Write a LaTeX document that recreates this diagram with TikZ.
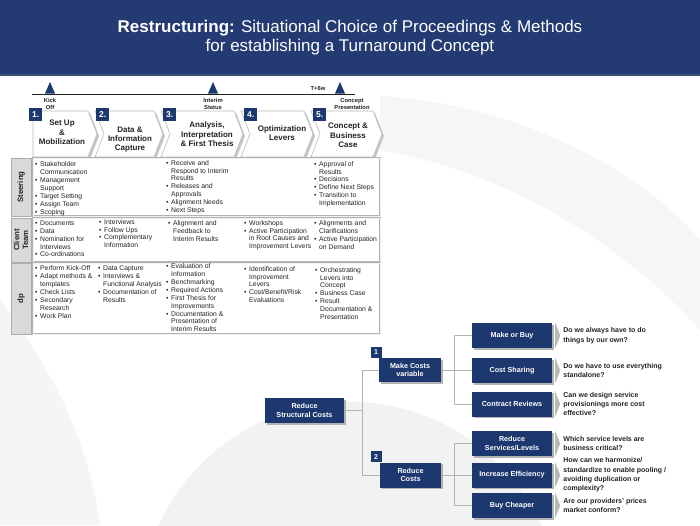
\documentclass[tikz,border=0pt]{standalone}
\usepackage{fontspec}
\setmainfont{Liberation Sans}
\usetikzlibrary{positioning,shadows}

\definecolor{navy}{RGB}{29,55,111}
\definecolor{band}{RGB}{35,58,115}
\definecolor{ink}{RGB}{35,35,35}

\newcommand\bul{\makebox[5pt][l]{\textbullet}}
\newcommand\hng{\hspace*{5pt}}

\begin{document}
\begin{tikzpicture}[x=1pt, y=-1pt,
  phase/.style={draw=gray!55, fill=white, line width=0.6pt},
  phasenum/.style={fill=navy, text=white, font=\fontsize{8.5}{9}\selectfont\bfseries, minimum width=13pt, minimum height=13pt, inner sep=0pt},
  phasetext/.style={font=\fontsize{8}{9.4}\selectfont\bfseries, align=center, text=ink},
  mile/.style={font=\fontsize{5.8}{6.8}\selectfont\bfseries, align=center, text=ink, inner sep=0pt},
  rowlabel/.style={draw=gray!65, fill=gray!30, line width=0.8pt, font=\fontsize{7.8}{8.6}\selectfont\bfseries, align=center, text=ink, inner sep=0pt},
  rowbox/.style={draw=gray!60, double=gray!12, double distance=0.7pt, fill=white, anchor=north west, inner sep=0pt},
  rowtext/.style={font=\fontsize{6.8}{7.9}\selectfont, align=left, anchor=north west, inner sep=0pt, text=ink},
  costbox/.style={fill=navy, text=white, font=\fontsize{7.2}{8.6}\selectfont\bfseries, align=center, inner sep=0pt, drop shadow={shadow xshift=1.5pt, shadow yshift=-1.5pt, fill=gray!60, opacity=1}},
  leaf/.style={costbox, minimum width=80pt, minimum height=25pt},
  treenum/.style={fill=navy, text=white, font=\fontsize{7}{7}\selectfont\bfseries, minimum width=11pt, minimum height=11pt, inner sep=0pt},
  question/.style={font=\fontsize{7}{9.4}\selectfont\bfseries, align=left, text=ink, inner sep=0pt},
  link/.style={draw=gray!60, line width=0.6pt}]

\useasboundingbox (0,0) rectangle (700,525);
\fill[white] (0,0) rectangle (700,525);
\fill[gray!7] (380,96) .. controls (520,105) and (640,170) .. (700,240) -- (700,330) .. controls (620,240) and (500,170) .. (380,150) -- cycle;
\fill[gray!8] (0,300) .. controls (60,380) and (90,450) .. (100,525) -- (0,525) -- cycle;
\fill[gray!10] (350,612) circle (210);

\fill[band] (0,0) rectangle (700,74);
\fill[band!70!gray] (0,74) rectangle (700,76);
\node[font=\fontsize{17}{19.5}\selectfont, text=white, align=center] (title) at (350,37.5)
  {\textbf{Restructuring:} Situational Choice of Proceedings \& Methods\\for establishing a Turnaround Concept};

\coordinate (t0) at (32,94);
\coordinate (t1) at (355,94);
\draw[ink, line width=0.8pt] (t0) -- (t1);
\foreach \x in {50,213,340}
  \fill[navy] (\x-5,93.5) -- (\x,82) -- (\x+5,93.5) -- cycle;
\node[mile] (kick) at (50,104) {Kick\\Off};
\node[mile] (interim) at (213,104) {Interim\\Status};
\node[mile] (tsix) at (318,89) {T+6w};
\node[mile] (pres) at (352,104) {Concept\\Presentation};

\foreach \l/\r/\n/\b [count=\i] in {33/97/0/29,95/163/9/96,161/243/9/163,241/313/9/244,311/382/9/313}{
  \fill[gray!45] (\l+2,113) -- (\r-7,113) -- (\r+2,136) -- (\r-7,159) -- (\l+2,159) -- (\l+2+\n,136) -- cycle;
  \draw[phase] (\l,111) -- (\r-9,111) -- (\r,134) -- (\r-9,157) -- (\l,157) -- (\l+\n,134) -- cycle;
  \node[phasenum, anchor=north west] (n\i) at (\b,108) {\i.};
}
\node[phasetext] (p1) at (62,132.5) {Set Up\\\&\\Mobilization};
\node[phasetext] (p2) at (130,139.5) {Data \&\\Information\\Capture};
\node[phasetext] (p3) at (207,134.5) {Analysis,\\Interpretation\\\& First Thesis};
\node[phasetext] (p4) at (282,133) {Optimization\\Levers};
\node[phasetext] (p5) at (348,135.3) {Concept \&\\Business\\Case};

\node[rowlabel, rotate=90, minimum width=58pt, minimum height=20pt] (steer) at (21,187) {Steering};
\node[rowlabel, rotate=90, minimum width=44pt, minimum height=20pt] (client) at (21,240) {Client\\Team};
\node[rowlabel, rotate=90, minimum width=71pt, minimum height=20pt] (dp) at (21,298.5) {dp};
\node[rowbox, minimum width=347pt, minimum height=58pt] (steerbox) at (33,158) {};
\node[rowbox, minimum width=347pt, minimum height=44pt] (clientbox) at (33,218) {};
\node[rowbox, minimum width=347pt, minimum height=71pt] (dpbox) at (33,263) {};

\node[rowtext] (s1) at (35,161.5) {\bul Stakeholder\\\hng Communication\\\bul Management\\\hng Support\\\bul Target Setting\\\bul Assign Team\\\bul Scoping};
\node[rowtext] (s3) at (166,160) {\bul Receive and\\\hng Respond to Interim\\\hng Results\\\bul Releases and\\\hng Approvals\\\bul Alignment Needs\\\bul Next Steps};
\node[rowtext] (s5) at (314,161) {\bul Approval of\\\hng Results\\\bul Decisions\\\bul Define Next Steps\\\bul Transition to\\\hng Implementation};

\node[rowtext] (c1) at (35,220.5) {\bul Documents\\\bul Data\\\bul Nomination for\\\hng Interviews\\\bul Co-ordinations};
\node[rowtext] (c2) at (99,219) {\bul Interviews\\\bul Follow Ups\\\bul Complementary\\\hng Information};
\node[rowtext] (c3) at (168,220.5) {\bul Alignment and\\\hng Feedback to\\\hng Interim Results};
\node[rowtext] (c4) at (244,220) {\bul Workshops\\\bul Active Participation\\\hng in Root Causes and\\\hng Improvement Levers};
\node[rowtext] (c5) at (314,220.5) {\bul Alignments and\\\hng Clarifications\\\bul Active Participation\\\hng on Demand};

\node[rowtext] (d1) at (35,265.5) {\bul Perform Kick-Off\\\bul Adapt methods \&\\\hng templates\\\bul Check Lists\\\bul Secondary\\\hng Research\\\bul Work Plan};
\node[rowtext] (d2) at (98,265.5) {\bul Data Capture\\\bul Interviews \&\\\hng Functional Analysis\\\bul Documentation of\\\hng Results};
\node[rowtext] (d3) at (166,263.5) {\bul Evaluation of\\\hng Information\\\bul Benchmarking\\\bul Required Actions\\\bul First Thesis for\\\hng Improvements\\\bul Documentation \&\\\hng Presentation of\\\hng Interim Results};
\node[rowtext] (d4) at (244,266) {\bul Identification of\\\hng Improvement\\\hng Levers\\\bul Cost/Benefit/Risk\\\hng Evaluations};
\node[rowtext] (d5) at (315,267) {\bul Orchestrating\\\hng Levers into\\\hng Concept\\\bul Business Case\\\bul Result\\\hng Documentation \&\\\hng Presentation};

\node[costbox, minimum width=79pt, minimum height=25pt] (root) at (304.5,410.5) {Reduce\\Structural Costs};
\node[costbox, minimum width=62pt, minimum height=24pt] (mcv) at (410,370) {Make Costs\\variable};
\node[costbox, minimum width=61pt, minimum height=25pt] (rc) at (410.5,475) {Reduce\\Costs};
\node[treenum, above left=0pt and -3pt of mcv.north west] (k1) {1};
\node[treenum, above left=0pt and -2pt of rc.north west] (k2) {2};

\node[leaf] (mob) at (512,335.5) {Make or Buy};
\node[leaf] (cs) at (512,370.5) {Cost Sharing};
\node[leaf] (cr) at (512,404) {Contract Reviews};
\node[leaf] (rsl) at (512,443.5) {Reduce\\Services/Levels};
\node[leaf] (ie) at (512,475) {Increase Efficiency};
\node[leaf] (bc) at (512,505.5) {Buy Cheaper};

\draw[link] (root.east) -- ++(18,0) |- (mcv.west);
\draw[link] (root.east) -- ++(18,0) |- (rc.west);
\foreach \c in {mob,cs,cr}
  \draw[link] (mcv.east) -- ++(13,0) |- (\c.west);
\foreach \c in {rsl,ie,bc}
  \draw[link] (rc.east) -- ++(13,0) |- (\c.west);

\foreach \c/\q in {mob/{Do we always have to do\\things by our own?},
                   cs/{Do we have to use everything\\standalone?},
                   cr/{Can we design service\\provisionings more cost\\effective?},
                   rsl/{Which service levels are\\business critical?},
                   ie/{How can we harmonize/\\standardize to enable pooling /\\avoiding duplication or\\complexity?},
                   bc/{Are our providers' prices\\market conform?}}{
  \fill[gray!55] ([xshift=3pt]\c.north east) -- ([xshift=8pt]\c.east) -- ([xshift=3pt]\c.south east) -- cycle;
  \node[question, right=11pt of \c] (q\c) {\q};
}
\end{tikzpicture}
\end{document}
